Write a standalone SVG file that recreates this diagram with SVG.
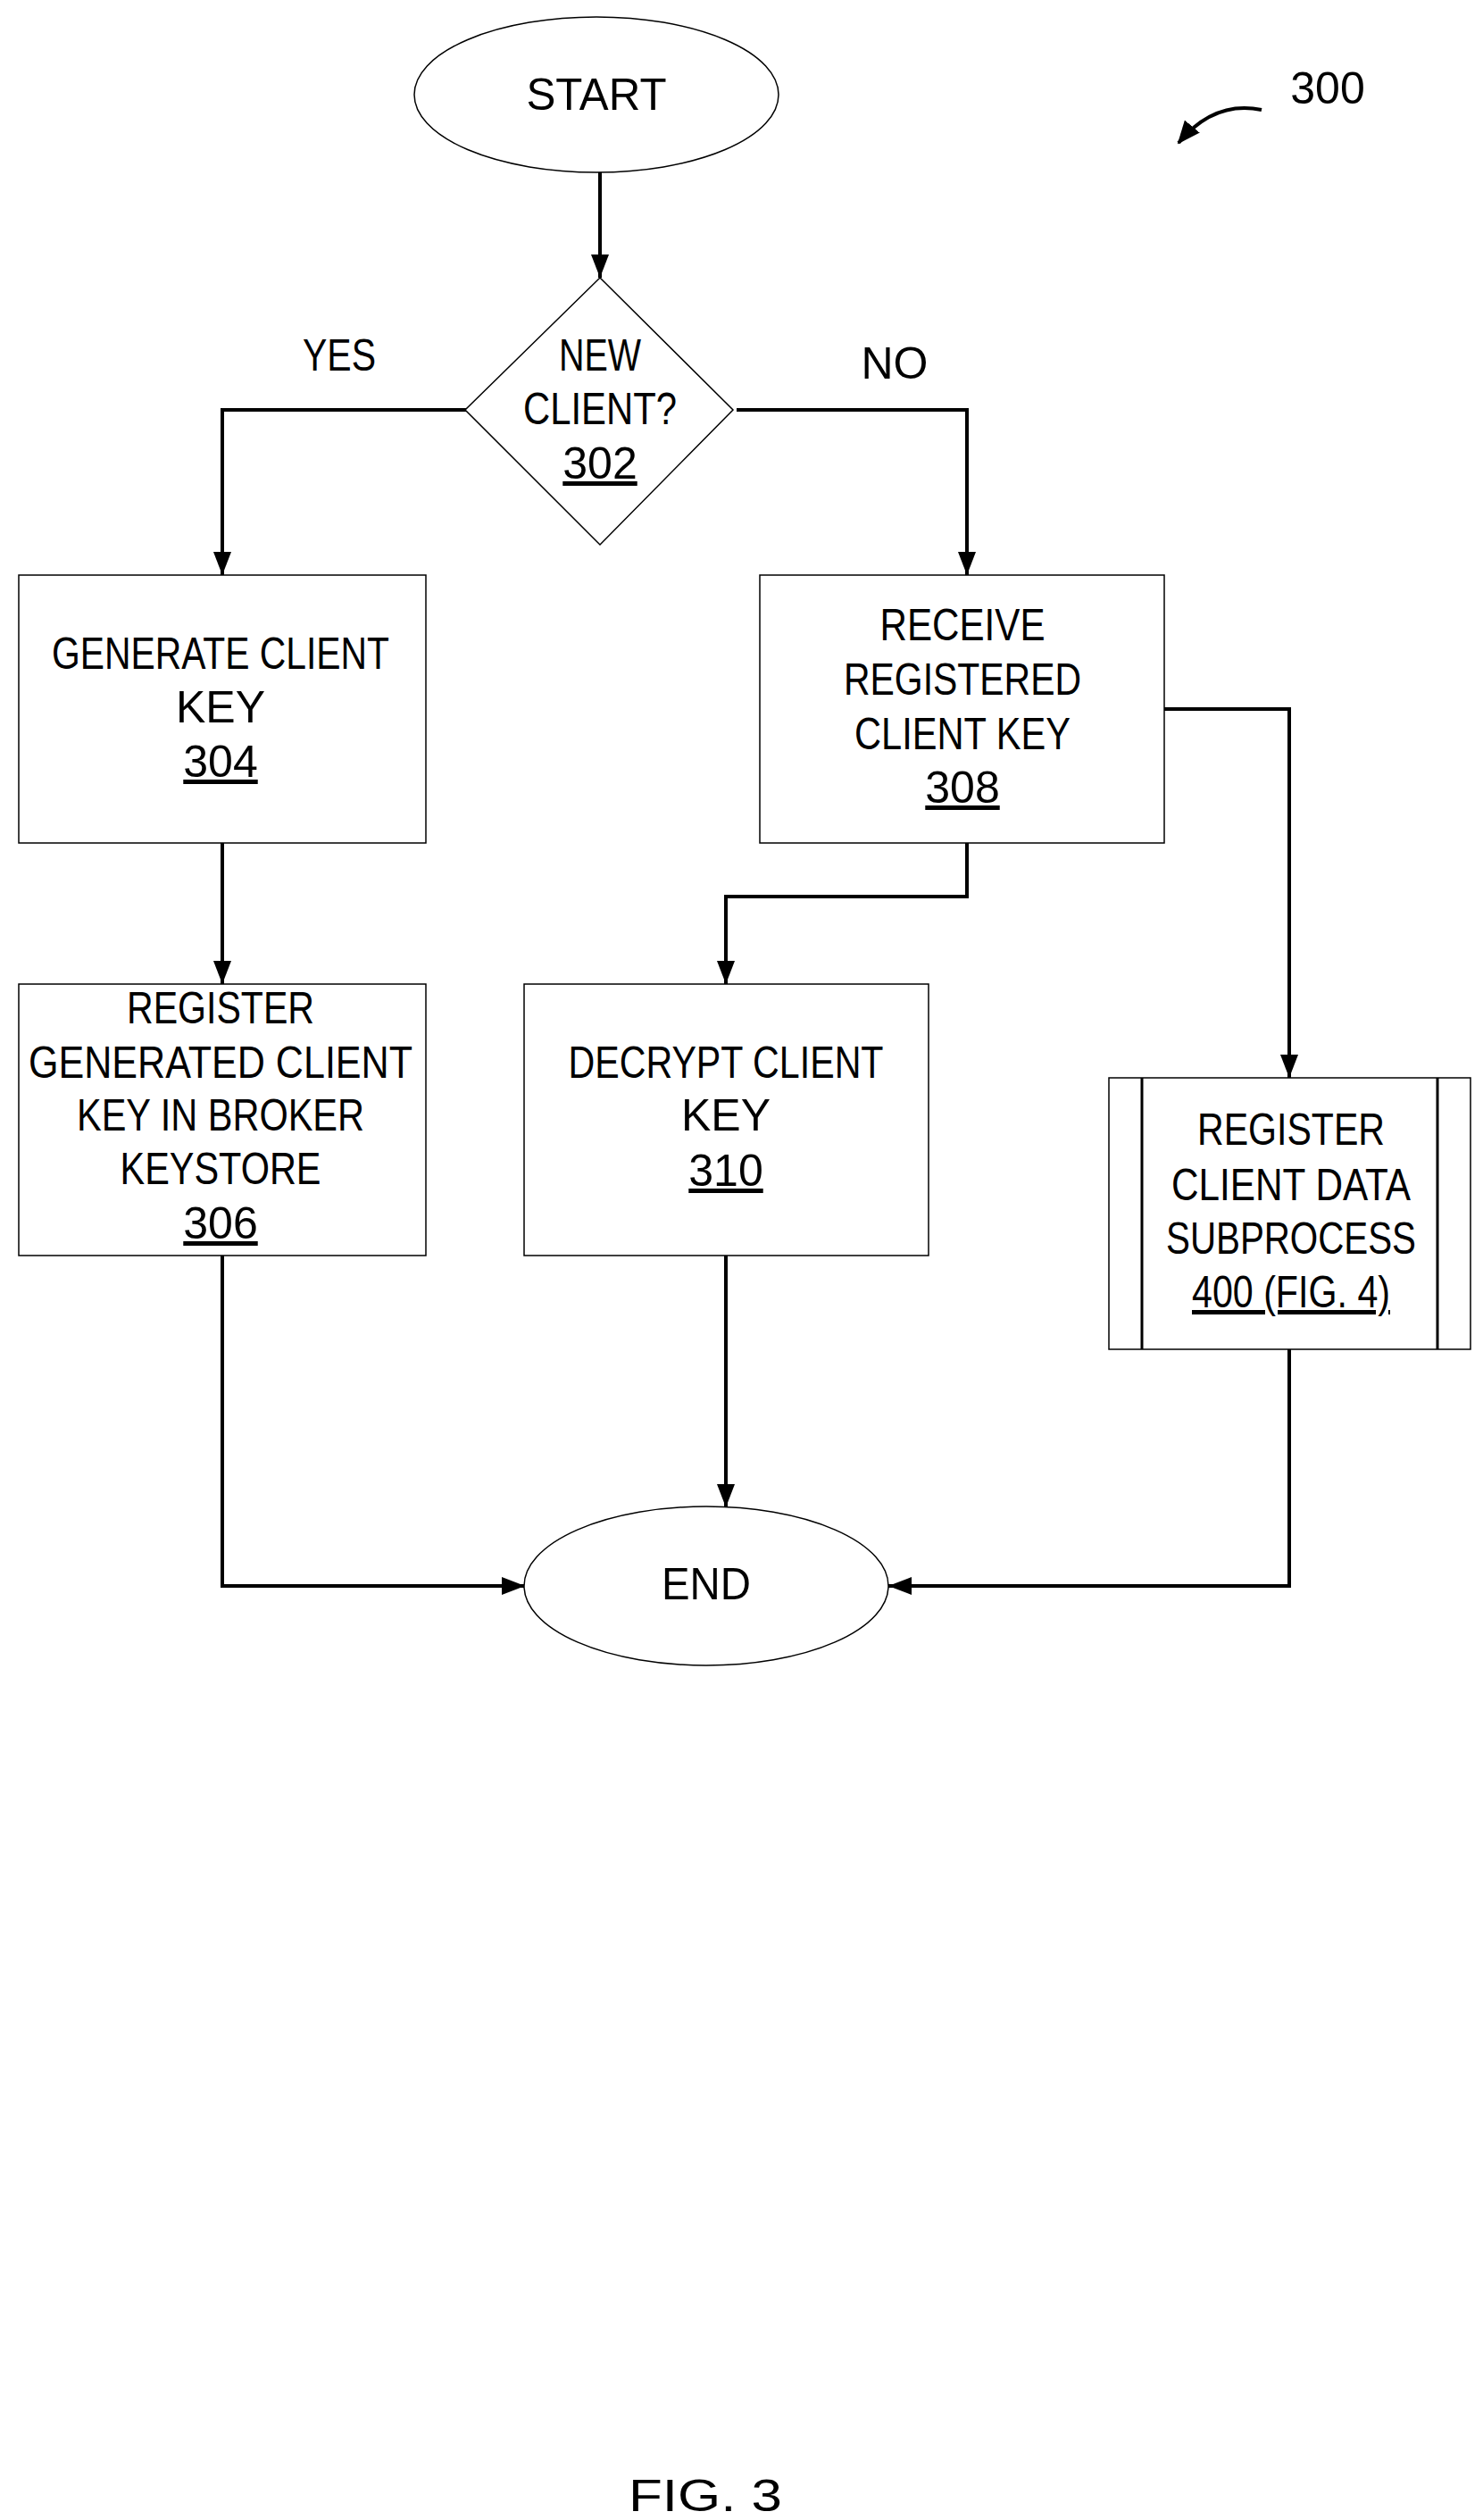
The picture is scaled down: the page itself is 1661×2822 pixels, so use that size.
<svg xmlns="http://www.w3.org/2000/svg" width="1661" height="2822" viewBox="0 0 1661 2822">
<style>
text{font-family:"Liberation Sans",Arial,sans-serif;font-size:50px;text-anchor:middle;fill:#000}
.n{fill:#fff;stroke:#000;stroke-width:1.5}
.c{fill:none;stroke:#000;stroke-width:4}
.u{text-decoration:underline}
</style>
<defs>
<marker id="a" markerWidth="26" markerHeight="22" refX="24" refY="11" orient="auto" markerUnits="userSpaceOnUse">
<path d="M0,0L26,11L0,22z"/>
</marker>
<marker id="b" markerWidth="26" markerHeight="20" refX="26" refY="10" orient="auto" markerUnits="userSpaceOnUse">
<path d="M0,0L26,10L0,20z"/>
</marker>
</defs>
<g id="connectors">
<path class="c" d="M672,193V311" marker-end="url(#b)"/>
<path class="c" d="M523,459H249V644" marker-end="url(#b)"/>
<path class="c" d="M825,459H1083V644" marker-end="url(#b)"/>
<path class="c" d="M249,944V1102" marker-end="url(#b)"/>
<path class="c" d="M1083,944V1004H813V1102" marker-end="url(#b)"/>
<path class="c" d="M1304,794H1444V1207" marker-end="url(#b)"/>
<path class="c" d="M813,1406V1688" marker-end="url(#b)"/>
<path class="c" d="M249,1406V1776H588" marker-end="url(#b)"/>
<path class="c" d="M1444,1511V1776H995" marker-end="url(#b)"/>
</g>
<g id="start"><ellipse class="n" cx="668" cy="106" rx="204" ry="87"/><text x="668" y="123" textLength="157" lengthAdjust="spacingAndGlyphs">START</text></g>
<g id="n302"><path class="n" d="M672,311L821,459L672,610L521,459z" stroke-width="3"/>
<text x="672" y="415" textLength="92" lengthAdjust="spacingAndGlyphs">NEW</text><text x="672" y="475" textLength="172" lengthAdjust="spacingAndGlyphs">CLIENT?</text><text x="672" y="536" class="u">302</text></g>
<g id="labels"><text x="380" y="415" textLength="82" lengthAdjust="spacingAndGlyphs">YES</text><text x="1002" y="424">NO</text></g>
<g id="n304"><rect class="n" x="21" y="644" width="456" height="300"/>
<text x="247" y="749" textLength="378" lengthAdjust="spacingAndGlyphs">GENERATE CLIENT</text><text x="247" y="809">KEY</text><text x="247" y="870" class="u">304</text></g>
<g id="n308"><rect class="n" x="851" y="644" width="453" height="300"/>
<text x="1078" y="717" textLength="185" lengthAdjust="spacingAndGlyphs">RECEIVE</text><text x="1078" y="778" textLength="266" lengthAdjust="spacingAndGlyphs">REGISTERED</text><text x="1078" y="839" textLength="242" lengthAdjust="spacingAndGlyphs">CLIENT KEY</text><text x="1078" y="899" class="u">308</text></g>
<g id="n306"><rect class="n" x="21" y="1102" width="456" height="304"/>
<text x="247" y="1146" textLength="210" lengthAdjust="spacingAndGlyphs">REGISTER</text><text x="247" y="1207" textLength="430" lengthAdjust="spacingAndGlyphs">GENERATED CLIENT</text><text x="247" y="1266" textLength="322" lengthAdjust="spacingAndGlyphs">KEY IN BROKER</text><text x="247" y="1326" textLength="225" lengthAdjust="spacingAndGlyphs">KEYSTORE</text><text x="247" y="1387" class="u">306</text></g>
<g id="n310"><rect class="n" x="587" y="1102" width="453" height="304"/>
<text x="813" y="1207" textLength="353" lengthAdjust="spacingAndGlyphs">DECRYPT CLIENT</text><text x="813" y="1266">KEY</text><text x="813" y="1328" class="u">310</text></g>
<g id="n400"><rect class="n" x="1242" y="1207" width="405" height="304" stroke-width="4"/>
<path d="M1279,1207V1511M1610,1207V1511" stroke="#000" stroke-width="3"/>
<text x="1446" y="1282" textLength="210" lengthAdjust="spacingAndGlyphs">REGISTER</text><text x="1446" y="1344" textLength="268" lengthAdjust="spacingAndGlyphs">CLIENT DATA</text><text x="1446" y="1404" textLength="280" lengthAdjust="spacingAndGlyphs">SUBPROCESS</text><text x="1446" y="1464" class="u" textLength="222" lengthAdjust="spacingAndGlyphs">400 (FIG. 4)</text></g>
<g id="end"><ellipse class="n" cx="791" cy="1776" rx="204" ry="89"/><text x="791" y="1791" textLength="100" lengthAdjust="spacingAndGlyphs">END</text></g>
<g id="ref300"><text x="1487" y="116" font-size="46">300</text>
<path d="M1413,123Q1360,112 1320,160" fill="none" stroke="#000" stroke-width="4" marker-end="url(#a)"/></g>
<text x="790" y="2812" font-size="64" textLength="172" lengthAdjust="spacingAndGlyphs">FIG. 3</text>
</svg>
